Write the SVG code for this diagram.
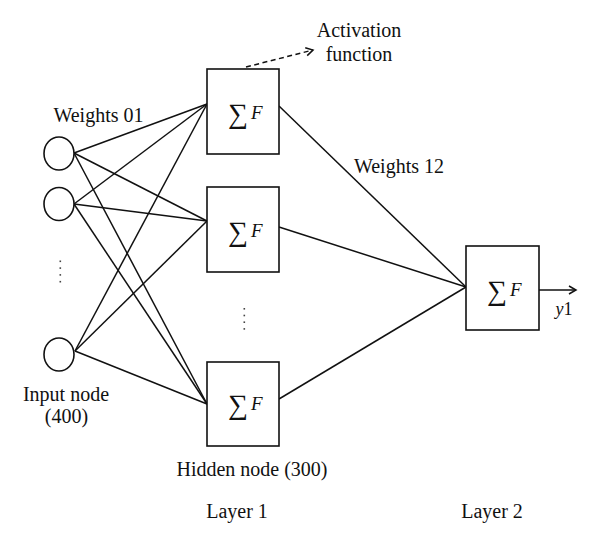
<svg xmlns="http://www.w3.org/2000/svg" width="600" height="545" viewBox="0 0 600 545">
<defs>
<style>
.ln{stroke:#111;stroke-width:1.5;fill:none}
.bx{stroke:#111;stroke-width:1.6;fill:#fff}
.t{font-family:"Liberation Serif","Times New Roman",serif;font-size:20px;fill:#111;text-anchor:middle}
.sg{font-family:"Liberation Serif","DejaVu Serif",serif;font-size:28px;fill:#111}
.f{font-family:"Liberation Serif",serif;font-size:19px;font-style:italic;fill:#111}
.dot{fill:#444}
</style>
<marker id="open" markerWidth="10" markerHeight="10" refX="8" refY="5" orient="auto" markerUnits="userSpaceOnUse">
<path d="M1,1 L8,5 L1,9" fill="none" stroke="#111" stroke-width="1.5"/>
</marker>
</defs>
<rect width="600" height="545" fill="#fff"/>
<g id="connectors">
<line class="ln" x1="74" y1="153" x2="207" y2="104"/>
<line class="ln" x1="74" y1="153" x2="207" y2="221"/>
<line class="ln" x1="74" y1="153" x2="207" y2="404"/>
<line class="ln" x1="74" y1="204" x2="207" y2="104"/>
<line class="ln" x1="74" y1="204" x2="207" y2="221"/>
<line class="ln" x1="74" y1="204" x2="207" y2="404"/>
<line class="ln" x1="75" y1="351" x2="207" y2="104"/>
<line class="ln" x1="75" y1="351" x2="207" y2="221"/>
<line class="ln" x1="75" y1="351" x2="207" y2="404"/>
<line class="ln" x1="279" y1="106" x2="466" y2="287"/>
<line class="ln" x1="279" y1="227" x2="466" y2="287"/>
<line class="ln" x1="279" y1="399" x2="466" y2="287"/>
<line class="ln" x1="539" y1="290" x2="576" y2="290" marker-end="url(#open)"/>
<line class="ln" x1="246" y1="67" x2="313" y2="50" stroke-dasharray="5,3.5" marker-end="url(#open)"/>
</g>
<g id="input1"><ellipse class="bx" cx="59" cy="153.5" rx="15" ry="16.5"/></g>
<g id="input2"><ellipse class="bx" cx="59" cy="204" rx="15" ry="16.5"/></g>
<g id="input3"><ellipse class="bx" cx="59" cy="354.5" rx="15" ry="16.5"/></g>
<g id="input-dots">
<rect class="dot" x="59.5" y="260.5" width="1.6" height="1.6"/>
<rect class="dot" x="59.5" y="267.3" width="1.6" height="1.6"/>
<rect class="dot" x="59.5" y="274.1" width="1.6" height="1.6"/>
<rect class="dot" x="59.5" y="280.9" width="1.6" height="1.6"/>
</g>
<g id="hidden1">
<rect class="bx" x="207" y="69" width="72" height="85"/>
<text class="sg" x="228" y="123">∑</text><text class="f" x="251" y="119">F</text>
</g>
<g id="hidden2">
<rect class="bx" x="207" y="187" width="72" height="85"/>
<text class="sg" x="228" y="241">∑</text><text class="f" x="251" y="237">F</text>
</g>
<g id="hidden-dots">
<rect class="dot" x="243.5" y="308" width="1.6" height="1.6"/>
<rect class="dot" x="243.5" y="314.7" width="1.6" height="1.6"/>
<rect class="dot" x="243.5" y="321.4" width="1.6" height="1.6"/>
<rect class="dot" x="243.5" y="328.1" width="1.6" height="1.6"/>
</g>
<g id="hidden3">
<rect class="bx" x="207" y="362" width="72" height="84"/>
<text class="sg" x="228" y="414">∑</text><text class="f" x="251" y="410">F</text>
</g>
<g id="output">
<rect class="bx" x="466" y="246" width="73" height="84"/>
<text class="sg" x="487" y="300">∑</text><text class="f" x="510" y="296">F</text>
</g>
<g id="labels">
<text class="t" x="98.5" y="122">Weights 01</text>
<text class="t" x="359" y="37">Activation</text>
<text class="t" x="359" y="61">function</text>
<text class="t" x="399" y="173">Weights 12</text>
<text class="t" x="66" y="401">Input node</text>
<text class="t" x="66.5" y="423">(400)</text>
<text class="t" x="252" y="476">Hidden node (300)</text>
<text class="t" x="237" y="518">Layer 1</text>
<text class="t" x="492" y="518">Layer 2</text>
<text class="t" x="564" y="315" style="font-size:18px"><tspan font-style="italic">y</tspan>1</text>
</g>
</svg>
